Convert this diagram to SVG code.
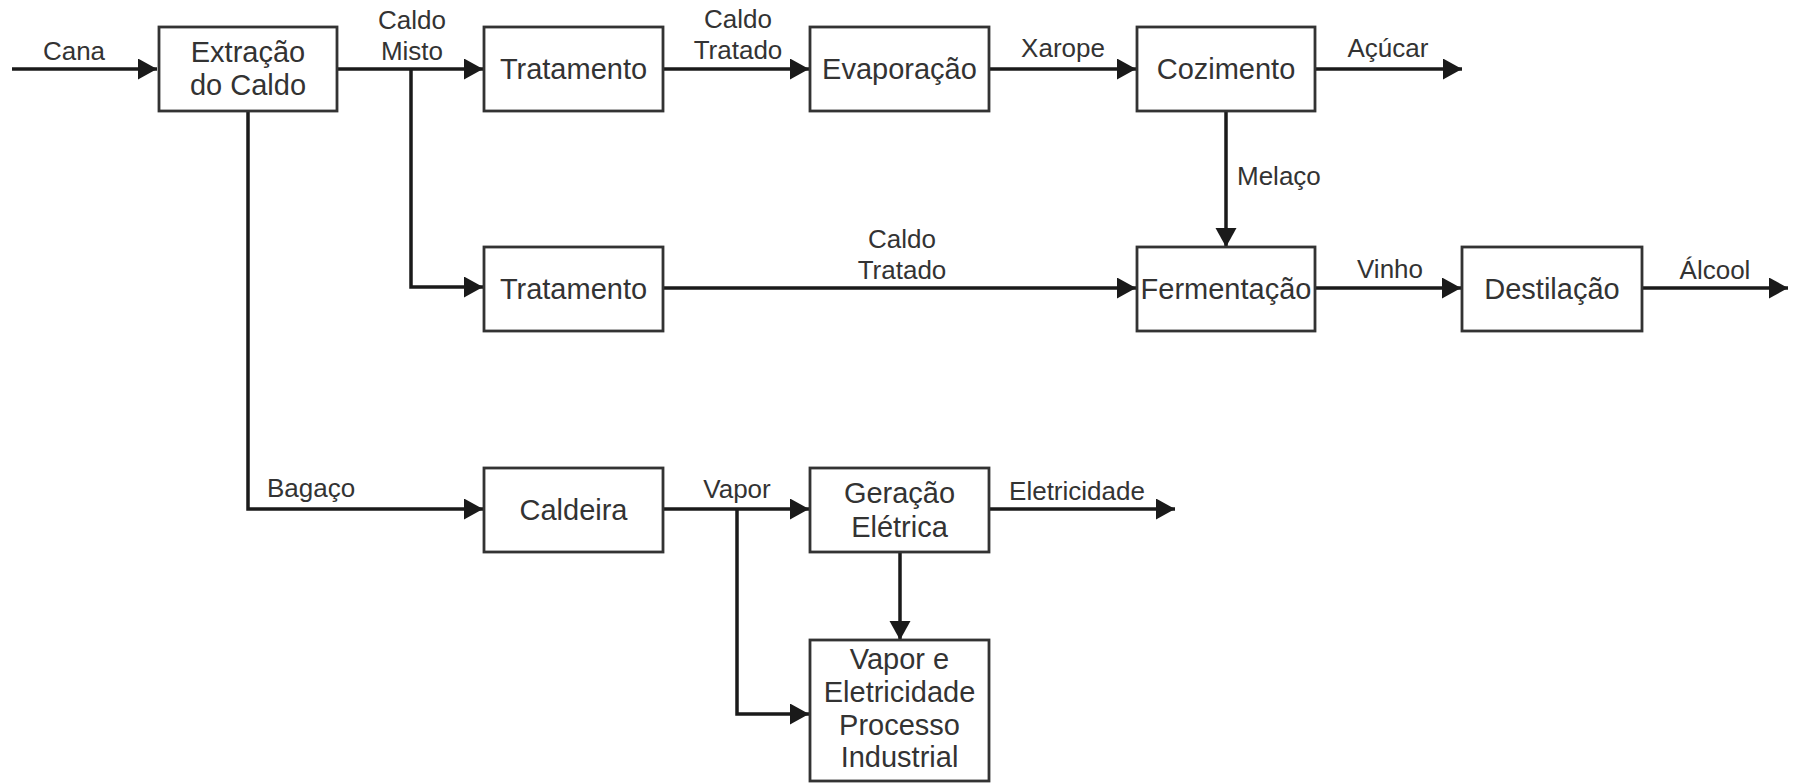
<svg xmlns="http://www.w3.org/2000/svg" width="1799" height="784" viewBox="0 0 1799 784">
<style>
.box{fill:#fff;stroke:#333;stroke-width:2.8}
.nt{font-family:"Liberation Sans",Arial,sans-serif;font-size:29px;fill:#333;text-anchor:middle}
.lb{font-family:"Liberation Sans",Arial,sans-serif;font-size:26px;fill:#333;text-anchor:middle}
.lbs{font-family:"Liberation Sans",Arial,sans-serif;font-size:26px;fill:#333;text-anchor:start}
.ln{fill:none;stroke:#1a1a1a;stroke-width:3.5}
</style>
<defs>
<marker id="ah" markerUnits="userSpaceOnUse" markerWidth="20" markerHeight="22" refX="19" refY="10.5" orient="auto">
<path d="M0,0 L19,10.5 L0,21 z" fill="#1a1a1a"/>
</marker>
</defs>
<rect width="1799" height="784" fill="#fff"/>
<g id="connectors">
<path class="ln" d="M12,69 H157" marker-end="url(#ah)"/>
<path class="ln" d="M337,69 H483" marker-end="url(#ah)"/>
<path class="ln" d="M411,69 V287 H483" marker-end="url(#ah)"/>
<path class="ln" d="M663,69 H809" marker-end="url(#ah)"/>
<path class="ln" d="M989,69 H1136" marker-end="url(#ah)"/>
<path class="ln" d="M1315,69 H1462" marker-end="url(#ah)"/>
<path class="ln" d="M1226,111 V247" marker-end="url(#ah)"/>
<path class="ln" d="M663,288 H1136" marker-end="url(#ah)"/>
<path class="ln" d="M1315,288 H1461" marker-end="url(#ah)"/>
<path class="ln" d="M1642,288 H1788" marker-end="url(#ah)"/>
<path class="ln" d="M248,111 V509 H483" marker-end="url(#ah)"/>
<path class="ln" d="M663,509 H809" marker-end="url(#ah)"/>
<path class="ln" d="M737,509 V714 H809" marker-end="url(#ah)"/>
<path class="ln" d="M989,509 H1175" marker-end="url(#ah)"/>
<path class="ln" d="M900,552 V640" marker-end="url(#ah)"/>
<text class="lb" x="74" y="60">Cana</text>
<text class="lb" x="412" y="29">Caldo</text>
<text class="lb" x="412" y="60">Misto</text>
<text class="lb" x="738" y="28">Caldo</text>
<text class="lb" x="738" y="59">Tratado</text>
<text class="lb" x="1063" y="57">Xarope</text>
<text class="lb" x="1388" y="57">Açúcar</text>
<text class="lbs" x="1237" y="185">Melaço</text>
<text class="lb" x="902" y="248">Caldo</text>
<text class="lb" x="902" y="279">Tratado</text>
<text class="lb" x="1390" y="278">Vinho</text>
<text class="lb" x="1715" y="279">Álcool</text>
<text class="lbs" x="267" y="497">Bagaço</text>
<text class="lb" x="737" y="498">Vapor</text>
<text class="lb" x="1077" y="500">Eletricidade</text>
</g>
<g id="extracao"><rect class="box" x="159" y="27" width="178" height="84"/><text class="nt" x="248" y="62">Extração</text><text class="nt" x="248" y="95">do Caldo</text></g>
<g id="tratamento1"><rect class="box" x="484" y="27" width="179" height="84"/><text class="nt" x="573.5" y="79">Tratamento</text></g>
<g id="evaporacao"><rect class="box" x="810" y="27" width="179" height="84"/><text class="nt" x="899.5" y="79">Evaporação</text></g>
<g id="cozimento"><rect class="box" x="1137" y="27" width="178" height="84"/><text class="nt" x="1226" y="79">Cozimento</text></g>
<g id="tratamento2"><rect class="box" x="484" y="247" width="179" height="84"/><text class="nt" x="573.5" y="299">Tratamento</text></g>
<g id="fermentacao"><rect class="box" x="1137" y="247" width="178" height="84"/><text class="nt" x="1226" y="299">Fermentação</text></g>
<g id="destilacao"><rect class="box" x="1462" y="247" width="180" height="84"/><text class="nt" x="1552" y="299">Destilação</text></g>
<g id="caldeira"><rect class="box" x="484" y="468" width="179" height="84"/><text class="nt" x="573.5" y="520">Caldeira</text></g>
<g id="geracao"><rect class="box" x="810" y="468" width="179" height="84"/><text class="nt" x="899.5" y="503">Geração</text><text class="nt" x="899.5" y="537">Elétrica</text></g>
<g id="processo"><rect class="box" x="810" y="640" width="179" height="141"/><text class="nt" x="899.5" y="669">Vapor e</text><text class="nt" x="899.5" y="702">Eletricidade</text><text class="nt" x="899.5" y="735">Processo</text><text class="nt" x="899.5" y="767">Industrial</text></g>
</svg>
